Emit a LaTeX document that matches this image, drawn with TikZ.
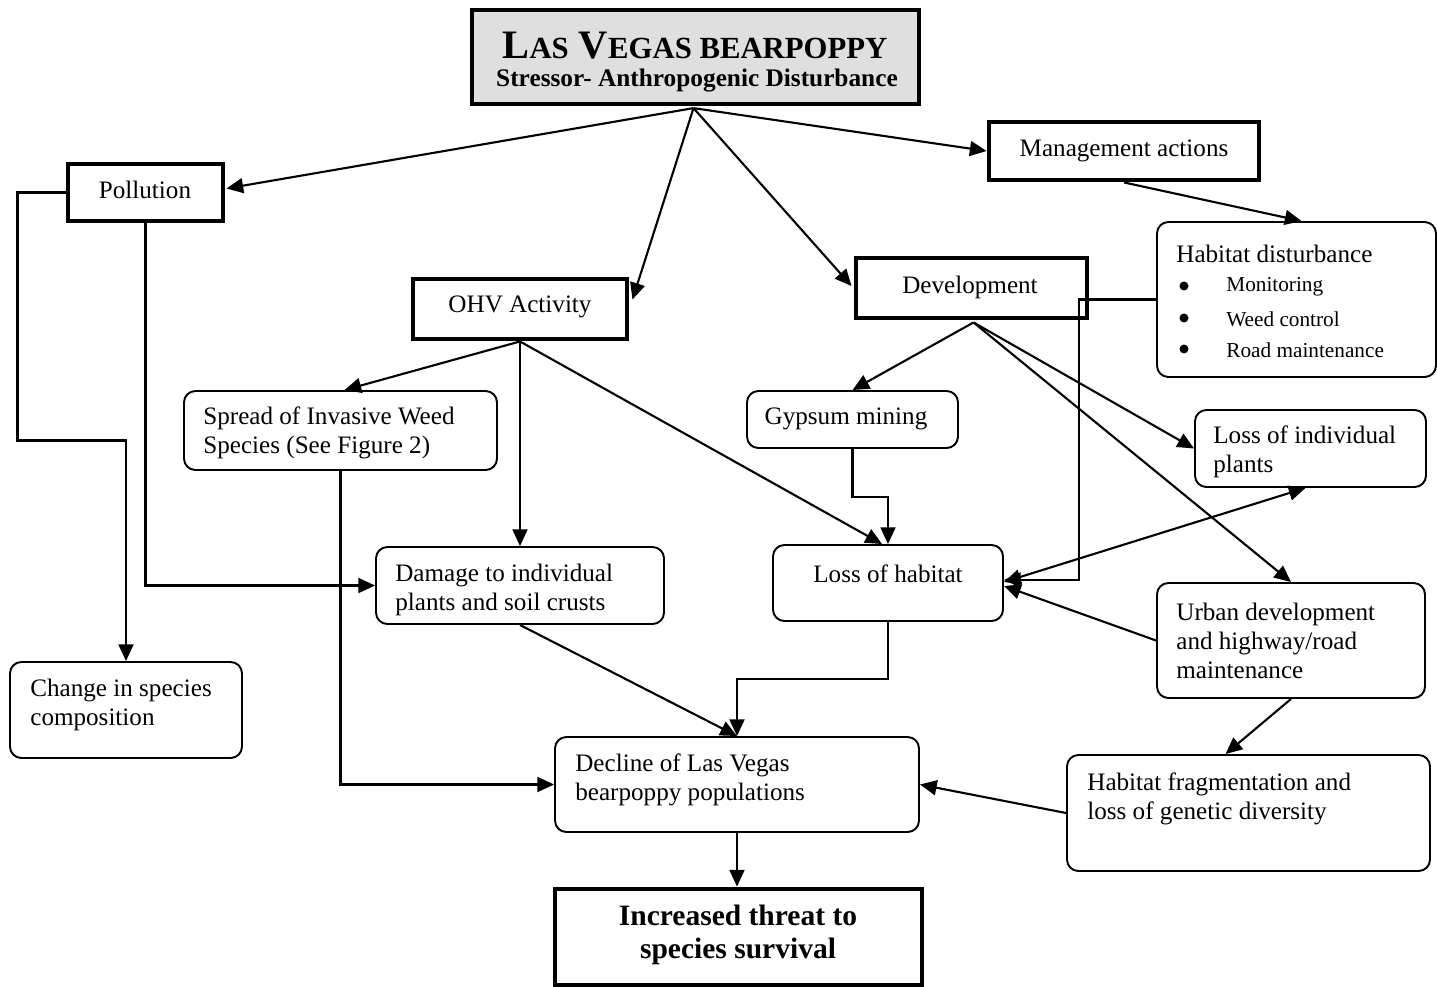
\documentclass[tikz,border=0pt]{standalone}
\usepackage{fontspec}
\setmainfont{Liberation Serif}
\usetikzlibrary{arrows.meta,fit,calc}
\begin{document}
\begin{tikzpicture}[x=0.02cm,y=-0.02cm,
  every node/.style={font=\fontsize{14.3}{16.4}\selectfont},
  thickbox/.style={draw, line width=2.8pt, inner sep=0pt},
  rbox/.style={draw, line width=1.1pt, rounded corners=6.5pt, inner sep=0pt},
  txt/.style={inner sep=0pt, align=left, anchor=west},
  ctxt/.style={inner sep=0pt, align=center},
  small/.style={inner sep=0pt, anchor=west, font=\fontsize{12.1}{14}\selectfont},
  dot/.style={circle, fill, inner sep=0pt, minimum size=0.18cm},
  arr/.style={line width=1.2pt, -{Triangle[length=9.5pt,width=8.5pt]}},
  darr/.style={line width=1.2pt, {Triangle[length=9.5pt,width=8.5pt]}-{Triangle[length=9.5pt,width=8.5pt]}}
]
\useasboundingbox (0,0) rectangle (1437,987);

% boxes
\node[thickbox, fill=gray!25, line width=2.4pt, fit={(472,10) (919,104)}] (title) {};
\node[ctxt] (titleA) at (695,46) {\bfseries\fontsize{23}{26}\selectfont L{\fontsize{17.5}{20}\selectfont AS} V{\fontsize{17.5}{20}\selectfont EGAS BEARPOPPY}};
\node[ctxt] (titleB) at (697,81) {\bfseries\fontsize{14.4}{17}\selectfont Stressor- Anthropogenic Disturbance};

\node[thickbox, fit={(68,164) (223,221)}] (pol) {};
\node[ctxt] (polT) at (145,190) {Pollution};

\node[thickbox, fit={(413,279) (627,339)}] (ohv) {};
\node[ctxt] (ohvT) at (520,307) {OHV Activity};

\node[thickbox, fit={(989,122) (1259,180)}] (mgmt) {};
\node[ctxt] (mgmtT) at (1124,151) {Management actions};

\node[thickbox, fit={(856,258) (1087,318)}] (dev) {};
\node[ctxt] (devT) at (970,287) {Development};

\node[rbox, fit={(747,391) (958,448)}] (gyp) {};
\node[ctxt] (gypT) at (846,419) {Gypsum mining};

\node[rbox, fit={(773,545) (1003,621)}] (loh) {};
\node[ctxt] (lohT) at (888,574) {Loss of habitat};

\node[rbox, fit={(184,391) (497,470)}] (spr) {};
\node[txt] (sprT) at (203,433) {Spread of Invasive Weed\\Species (See Figure 2)};

\node[rbox, fit={(376,547) (664,624)}] (dmg) {};
\node[txt] (dmgT) at (395,590) {Damage to individual\\plants and soil crusts};

\node[rbox, fit={(10,662) (242,758)}] (csc) {};
\node[txt] (cscT) at (30,705) {Change in species\\composition};

\node[rbox, fit={(1157,222) (1436,377)}] (hd) {};
\node[txt] (hdT) at (1176,254) {Habitat disturbance};
\node[dot] (hb1) at (1184,286) {};
\node[dot] (hb2) at (1184,318) {};
\node[dot] (hb3) at (1184,349) {};
\node[small] (hd1) at (1226,287) {Monitoring};
\node[small] (hd2) at (1226,319) {Weed control};
\node[small] (hd3) at (1226,350) {Road maintenance};

\node[rbox, fit={(1195,410) (1426,487)}] (lip) {};
\node[txt] (lipT) at (1213,452) {Loss of individual\\plants};

\node[rbox, fit={(1157,583) (1425,698)}] (udv) {};
\node[txt] (udvT) at (1176,641) {Urban development\\and highway/road\\maintenance};

\node[rbox, fit={(1067,755) (1430,871)}] (hfr) {};
\node[txt] (hfrT) at (1087,799) {Habitat fragmentation and\\loss of genetic diversity};

\node[rbox, fit={(555,737) (919,832)}] (dec) {};
\node[txt] (decT) at (575,780) {Decline of Las Vegas\\bearpoppy populations};

\node[thickbox, fit={(555,889) (922,985)}] (inc) {};
\node[ctxt, font=\bfseries\fontsize{16.8}{18.8}\selectfont] (incT) at (738,935) {Increased threat to\\species survival};

% connectors
\coordinate (ap) at ($(title.south)+(-2,2)$);
\draw[arr] (ap) -- ($(pol.east)+(1,-4)$);
\draw[arr] (ap) -- ($(ohv.north east)+(3,23)$);
\draw[arr] (ap) -- ($(dev.west)+(-2,-2)$);
\draw[arr] (ap) -- (mgmt.west);
\draw[arr] (mgmt.south) -- ($(hd.north)+(5,0)$);

\draw[arr] (pol.west) -- ++(-48,0) -- ++(0,248) -| (csc.north);
\draw[arr] (pol.south) |- (dmg.west);

\draw[arr] (ohv.south) -- ($(spr.north)+(4,0)$);
\draw[arr] (ohv.south) -- (dmg.north);
\draw[arr] (ohv.south) -- ($(loh.north)+(-6,0)$);
\draw[arr] (spr.south) |- (dec.west);
\draw[arr] (dmg.south) -- (dec.north);

\coordinate (dp) at ($(dev.south)+(2,2)$);
\draw[arr] (dp) -- (gyp.north);
\draw[arr] (dp) -- (lip.west);
\draw[arr] (dp) -- (udv.north);
\draw[arr] (gyp.south) -- ++(0,48) -| (loh.north);
\draw[arr] (loh.south) -- ++(0,57) -| (dec.north);

\draw[arr] (hd.west) -- ++(-77,0) |- ($(loh.east)+(0,-3)$);
\draw[darr] ($(loh.east)+(0,-1)$) -- ($(lip.south)+(-5,0)$);
\draw[arr] (udv.west) -- ($(loh.east)+(0,3)$);
\draw[arr] (udv.south) -- ($(hfr.north)+(-23,0)$);
\draw[arr] (hfr.west) -- (dec.east);
\draw[arr] (dec.south) -- (dec.south |- inc.north);
\end{tikzpicture}
\end{document}
